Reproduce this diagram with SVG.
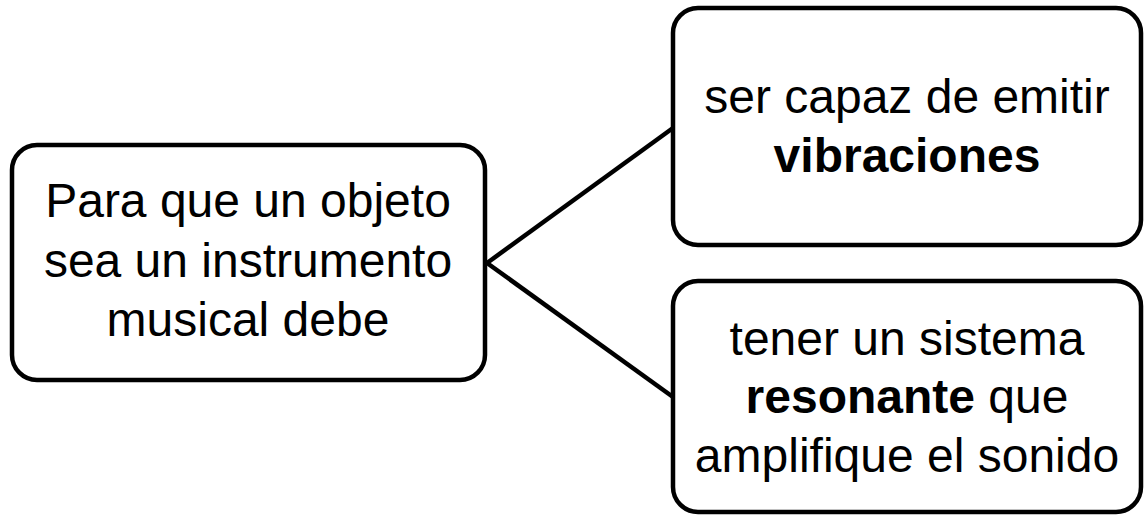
<svg xmlns="http://www.w3.org/2000/svg" width="1144" height="515" viewBox="0 0 1144 515">
<style>
.box{fill:#fff;stroke:#000;stroke-width:4.5}
.t{font-family:"Liberation Sans",Arial,sans-serif;font-size:48px;fill:#000;text-anchor:middle}
.b{font-weight:bold}
.c{stroke:#000;stroke-width:4.5;fill:none}
</style>
<rect width="1144" height="515" fill="#fff"/>
<g id="connectors">
<line class="c" x1="487" y1="263" x2="673" y2="128"/>
<line class="c" x1="487" y1="263" x2="673" y2="397"/>
</g>
<g id="node-root">
<rect class="box" x="12" y="145" width="473" height="235" rx="25"/>
<text class="t" x="248" y="217">Para que un objeto</text>
<text class="t" x="248" y="277">sea un instrumento</text>
<text class="t" x="248" y="336">musical debe</text>
</g>
<g id="node-vibraciones">
<rect class="box" x="673" y="8" width="468" height="237" rx="25"/>
<text class="t" x="907" y="113">ser capaz de emitir</text>
<text class="t b" x="907" y="172">vibraciones</text>
</g>
<g id="node-resonante">
<rect class="box" x="673" y="281" width="468" height="231" rx="25"/>
<text class="t" x="907" y="355">tener un sistema</text>
<text class="t" x="907" y="413"><tspan class="b">resonante</tspan> que</text>
<text class="t" x="907" y="472">amplifique el sonido</text>
</g>
</svg>
